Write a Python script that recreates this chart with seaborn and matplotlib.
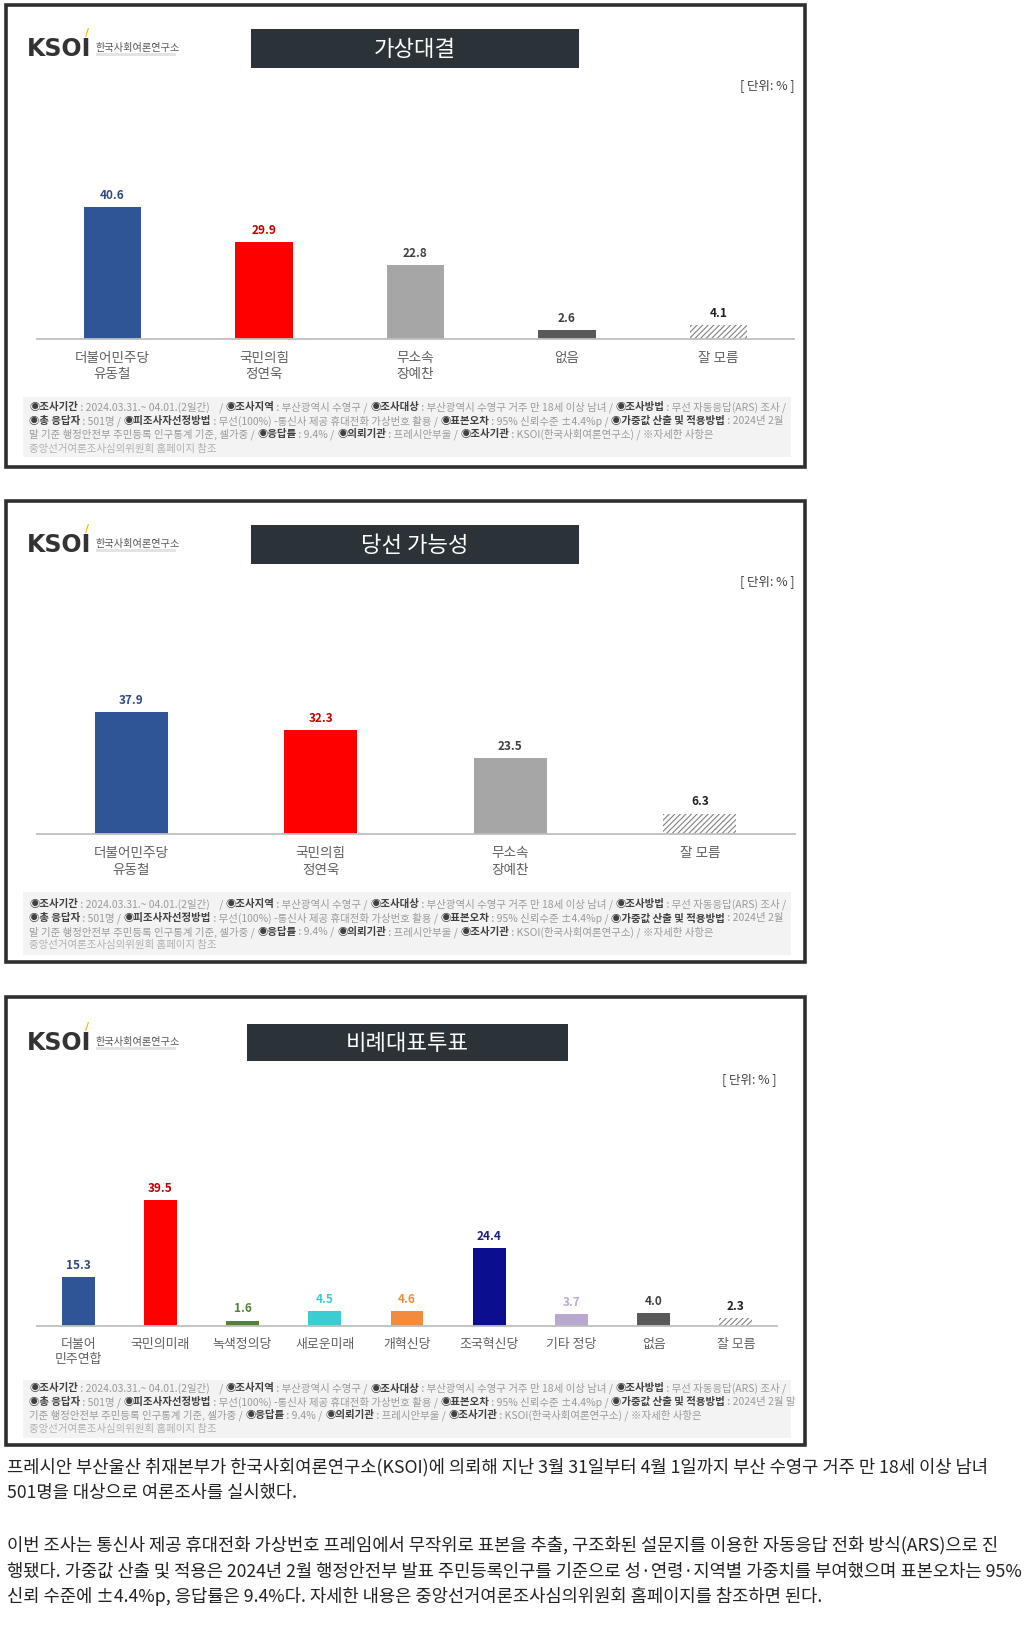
import matplotlib
matplotlib.use("Agg")
import matplotlib.pyplot as plt
from matplotlib.patches import Rectangle
import seaborn as sns

sns.set_theme(style="white")
plt.rcParams['font.family'] = ['Noto Sans CJK KR', 'DejaVu Sans']
plt.rcParams['hatch.linewidth'] = 0.8

# ---------------- data ----------------
p1_title = "가상대결"
p1_cats = ["더불어민주당\n유동철", "국민의힘\n정연욱", "무소속\n장예찬", "없음", "잘 모름"]
p1_vals = [40.6, 29.9, 22.8, 2.6, 4.1]

p2_title = "당선 가능성"
p2_cats = ["더불어민주당\n유동철", "국민의힘\n정연욱", "무소속\n장예찬", "잘 모름"]
p2_vals = [37.9, 32.3, 23.5, 6.3]

p3_title = "비례대표투표"
p3_cats = ["더불어\n민주연합", "국민의미래", "녹색정의당", "새로운미래", "개혁신당",
           "조국혁신당", "기타 정당", "없음", "잘 모름"]
p3_vals = [15.3, 39.5, 1.6, 4.5, 4.6, 24.4, 3.7, 4.0, 2.3]

unit_label = "[ 단위: % ]"

body_lines = [
    "프레시안 부산울산 취재본부가 한국사회여론연구소(KSOI)에 의뢰해 지난 3월 31일부터 4월 1일까지 부산 수영구 거주 만 18세 이상 남녀",
    "501명을 대상으로 여론조사를 실시했다.",
    "이번 조사는 통신사 제공 휴대전화 가상번호 프레임에서 무작위로 표본을 추출, 구조화된 설문지를 이용한 자동응답 전화 방식(ARS)으로 진",
    "행됐다. 가중값 산출 및 적용은 2024년 2월 행정안전부 발표 주민등록인구를 기준으로 성·연령·지역별 가중치를 부여했으며 표본오차는 95%",
    "신뢰 수준에 ±4.4%p, 응답률은 9.4%다. 자세한 내용은 중앙선거여론조사심의위원회 홈페이지를 참조하면 된다.",
]

foot_a = [
    [("◉조사기간", True), (" : 2024.03.31.~ 04.01.(2일간)    / ", False), ("◉조사지역", True),
     (" : 부산광역시 수영구 / ", False), ("◉조사대상", True),
     (" : 부산광역시 수영구 거주 만 18세 이상 남녀 / ", False), ("◉조사방법", True),
     (" : 무선 자동응답(ARS) 조사 /", False)],
    [("◉총 응답자", True), (" : 501명 / ", False), ("◉피조사자선정방법", True),
     (" : 무선(100%) -통신사 제공 휴대전화 가상번호 활용 / ", False), ("◉표본오차", True),
     (" : 95% 신뢰수준 ±4.4%p / ", False), ("◉가중값 산출 및 적용방법", True), (" : 2024년 2월", False)],
    [("말 기준 행정안전부 주민등록 인구통계 기준, 셀가중 / ", False), ("◉응답률", True),
     (" : 9.4% / ", False), ("◉의뢰기관", True), (" : 프레시안부울 / ", False), ("◉조사기관", True),
     (" : KSOI(한국사회여론연구소) / ※자세한 사항은", False)],
    [("중앙선거여론조사심의위원회 홈페이지 참조", False)],
]
foot_b = [
    foot_a[0],
    [("◉총 응답자", True), (" : 501명 / ", False), ("◉피조사자선정방법", True),
     (" : 무선(100%) -통신사 제공 휴대전화 가상번호 활용 / ", False), ("◉표본오차", True),
     (" : 95% 신뢰수준 ±4.4%p / ", False), ("◉가중값 산출 및 적용방법", True), (" : 2024년 2월 말", False)],
    [("기준 행정안전부 주민등록 인구통계 기준, 셀가중 / ", False), ("◉응답률", True),
     (" : 9.4% / ", False), ("◉의뢰기관", True), (" : 프레시안부울 / ", False), ("◉조사기관", True),
     (" : KSOI(한국사회여론연구소) / ※자세한 사항은", False)],
    foot_a[3],
]

# ---------------- styles ----------------
BLUE, RED, GRAY, DGRAY = "#2F5597", "#FF0000", "#A6A6A6", "#595959"
HATCH = "hatch"
p1_colors = [BLUE, RED, GRAY, DGRAY, HATCH]
p1_lblc = ["#2F4A80", "#C00000", "#404040", "#404040", "#202020"]
p2_colors = [BLUE, RED, GRAY, HATCH]
p2_lblc = ["#2F4A80", "#C00000", "#404040", "#202020"]
p3_colors = [BLUE, RED, "#548235", "#3CCDD2", "#F28C3C", "#0B0E8E", "#B9A8D0", DGRAY, HATCH]
p3_lblc = ["#2F4A80", "#C00000", "#548235", "#3CCDD2", "#F28C3C", "#1A1F7A", "#B9A8D0", "#404040", "#202020"]

W, H = 1031, 1633
fig = plt.figure(figsize=(W / 100, H / 100), dpi=100)
fig.patch.set_facecolor("white")
renderer = fig.canvas.get_renderer()


def fx(x):
    return x / W


def fy(y):
    return 1 - y / H


def rect(x0, y0, x1, y1, **kw):
    fig.add_artist(Rectangle((fx(x0), fy(y1)), fx(x1) - fx(x0), fy(y0) - fy(y1),
                             transform=fig.transFigure, **kw))


def rich_line(x, y, segs, size=7.5, cb="#404040", cn="#8C8C8C"):
    for txt, bold in segs:
        t = fig.text(fx(x), fy(y), txt, fontsize=size, color=cb if bold else cn,
                     fontweight="bold" if bold else "normal", va="center", ha="left")
        t2 = fig.text(0, 0, txt.replace(" ", "\u00a0") + "|", fontsize=size,
                      fontweight="bold" if bold else "normal")
        t3 = fig.text(0, 0, "|", fontsize=size, fontweight="bold" if bold else "normal")
        w = t2.get_window_extent(renderer).width - t3.get_window_extent(renderer).width
        t2.remove(); t3.remove()
        x += w


def header(title, bx0, bx1, by0, by1, logo_y, unit_x, unit_y):
    # logo
    fig.text(fx(27), fy(logo_y + 1), "KSOI", fontsize=17, fontweight="bold", color="#333333",
             va="center", ha="left", family="DejaVu Sans")
    fig.text(fx(85), fy(logo_y - 15), "/", fontsize=8, fontweight="bold", color="#F2B705",
             va="center", ha="left", family="DejaVu Sans")
    rect(96, logo_y + 6, 176, logo_y + 9, facecolor="#E3E3E3", edgecolor="none")
    fig.text(fx(96), fy(logo_y), "한국사회여론연구소", fontsize=7.3, color="#555555",
             va="center", ha="left")
    # banner
    rect(bx0, by0, bx1, by1, facecolor="#2B3238", edgecolor="none")
    fig.text(fx((bx0 + bx1) / 2), fy((by0 + by1) / 2), title, fontsize=16, color="white",
             va="center", ha="center", fontweight="medium")
    fig.text(fx(unit_x), fy(unit_y), unit_label, fontsize=9, color="#404040",
             va="center", ha="right")


def panel(box, cats, vals, colors, lblc, ax_x0, ax_x1, base_y, scale, ymax, width,
          catsize, pad, foot, foot_box, foot_y):
    x0, y0, x1, y1 = box
    rect(x0, y0, x1, y1, facecolor="white", edgecolor="#2E2E2E", linewidth=2.6, zorder=0)
    top = base_y - ymax * scale
    ax = fig.add_axes([fx(ax_x0), fy(base_y), fx(ax_x1) - fx(ax_x0), fy(top) - fy(base_y)])
    pal = [c if c != HATCH else "white" for c in colors]
    sns.barplot(x=cats, y=vals, hue=cats, palette=pal, legend=False, ax=ax,
                width=width, saturation=1, order=cats, hue_order=cats)
    ax.set_ylim(0, ymax)
    ax.set_xlim(-0.5, len(cats) - 0.5)
    for i, p in enumerate(ax.patches[:len(cats)]):
        p.set_linewidth(0)
        if colors[i] == HATCH:
            p.set_hatch("//////")
            p.set_edgecolor("#808080")
            p.set_facecolor("white")
        ax.annotate(f"{vals[i]:.1f}", (i, vals[i]), xytext=(0, 4.5), textcoords="offset points",
                    ha="center", va="bottom", fontsize=8.5, fontweight="bold", color=lblc[i])
    ax.patch.set_alpha(0)
    for s in ["top", "left", "right"]:
        ax.spines[s].set_visible(False)
    ax.spines["bottom"].set_color("#BFBFBF")
    ax.spines["bottom"].set_linewidth(1.3)
    ax.set_yticks([])
    ax.set_xlabel(""); ax.set_ylabel("")
    ax.set_xticks(range(len(cats)))
    ax.set_xticklabels(cats, fontsize=catsize, color="#606060", linespacing=1.25)
    ax.set_xticks([i - 0.5 for i in range(len(cats) + 1)], minor=True)
    ax.tick_params(axis="x", which="major", length=0, pad=pad)
    ax.tick_params(axis="x", which="minor", length=4, width=1, color="#BFBFBF", direction="out")
    # footnote
    fx0, fy0, fx1, fy1 = foot_box
    rect(fx0, fy0, fx1, fy1, facecolor="#F3F3F3", edgecolor="none")
    for k, segs in enumerate(foot):
        cn = "#9A9A9A" if k < 3 else "#B0B0B0"
        rich_line(fx0 + 6, foot_y[k], segs, cn=cn)


# ---------- panel 1 ----------
panel((6, 6, 805, 468), p1_cats, p1_vals, p1_colors, p1_lblc, 36.7, 794.2, 339.5, 3.23, 50, 0.38,
      9.8, 8, foot_a, (23, 398, 791, 458), [407, 421, 434.5, 449])
header(p1_title, 251, 579, 30, 69, 48, 795, 86)

# ---------- panel 2 ----------
panel((6, 502, 805, 963), p2_cats, p2_vals, p2_colors, p2_lblc, 36.5, 794.5, 835, 3.215, 50, 0.385,
      9.8, 8, foot_a, (23, 893, 791, 956), [904, 918.5, 932, 945.5])
header(p2_title, 251, 579, 526, 565, 544, 795, 582)

# ---------- panel 3 ----------
panel((6, 998, 805, 1446), p3_cats, p3_vals, p3_colors, p3_lblc, 37, 777, 1326.7, 3.17, 45, 0.40,
      9.3, 8, foot_b, (23, 1381, 791, 1439), [1388.5, 1402, 1415.5, 1429])
header(p3_title, 247, 568, 1025, 1062, 1042, 777, 1080)

# ---------- body text ----------
for y, line in zip([1467, 1493, 1545, 1571, 1597], body_lines):
    fig.text(fx(7), fy(y), line, fontsize=12.75, color="#222222", va="center", ha="left")

fig.savefig("out.png", dpi=100, facecolor="white")
